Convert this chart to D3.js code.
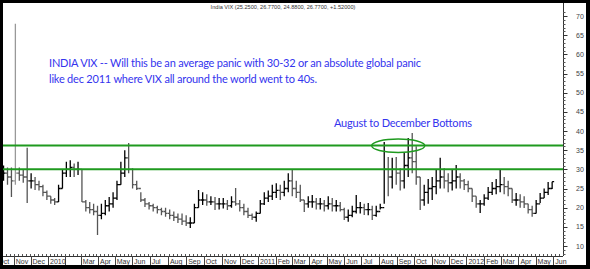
<!DOCTYPE html>
<html>
<head>
<meta charset="utf-8">
<script src="https://cdn.jsdelivr.net/npm/d3@7"></script>
<style>
  body { margin: 0; background: #000; }
  svg { display: block; }
</style>
</head>
<body>
<div id="vis"></div>
<script>
const W = 590, H = 269;
const plot = { left: 3, right: 563, top: 3, bottom: 256 };

// weekly India VIX bars, first week centred on 14 Oct 2009
const firstWeek = new Date(2009, 9, 14);
const high = [31, 30.5, 30.5, 68, 30.5, 30, 35.6, 29, 28, 27, 26, 24.5,
  23, 22.5, 26, 30, 32, 32.4, 31.5, 32, 30, 22, 21.5, 21, 20.5, 21, 22, 22.8, 24, 27, 32, 35, 36.9,
  30.3, 27, 24, 22.5, 21.5, 21, 20.5, 20, 20, 19.5, 19, 18.5, 18.5, 18, 17.5, 21, 24.6, 24, 23.5,
  23, 22.8, 22.5, 22.5, 22, 23, 25.1, 22, 21, 20, 18.5, 19,
  22, 24, 24.5, 26, 26.4, 26, 27, 29, 30, 27, 26, 22, 23, 23.3, 22.5, 22.5, 22, 23, 22.5, 22,
  21.5, 20, 19.5, 20.5, 23.3, 21.5, 21, 21.2, 20.5, 20.5, 21, 37.1, 33.2, 33, 33.2, 30.3, 34.3,
  38.2, 39.5, 36, 28, 26, 27.5, 28, 30, 33, 30.3, 29, 30, 31.1, 29, 27.5,
  27, 25, 23, 22, 23.5, 25.4, 26.7, 27.5, 29.8, 28, 27, 25, 23.8, 23.5, 23, 21, 20.5, 22, 23.8,
  25, 26.7, 26.77];
const low = [27, 26, 22.8, 26, 27, 26.5, 21.2, 25, 24.6, 24.5, 23, 22,
  21, 20.7, 21.5, 25, 28, 28, 28, 28.5, 21.5, 19, 18.5, 18, 12.9, 17, 18, 19, 20, 22, 26, 28, 29,
  25, 24.6, 21.5, 20.2, 19.5, 19, 18.5, 18, 17.6, 17, 16.5, 16, 15.5, 15.2, 14.7, 16, 20, 20.7, 20.5,
  20.7, 19.4, 19.5, 19.8, 19.4, 20, 20.5, 19, 18, 17.3, 16.8, 16.3,
  18.5, 20.7, 21.5, 22, 22.5, 22, 23, 24, 23, 22.5, 21.5, 18.9, 20, 20, 19.5, 19.5, 19, 19.5, 19, 19,
  19, 16.8, 16.3, 17.5, 18.5, 18.5, 18.1, 18, 16.8, 17.6, 19.5, 21, 23, 25, 26, 24.5, 25,
  28, 29, 26, 19.4, 20.5, 21, 22, 23.5, 25, 25, 24, 24.5, 25, 25, 24.6,
  24, 21.5, 20, 18.6, 20.5, 22, 23.3, 23.5, 24, 23.5, 23, 21.2, 20.5, 20, 19.9, 18.5, 17.6, 18.5, 21.2,
  22.5, 23.3, 24.88];
const close = [29, 28, 27, 29, 28.5, 28, 27, 27, 26, 25.5, 24, 23,
  22, 21.5, 25, 29, 30, 30.5, 30, 30, 21.5, 20, 19.5, 19, 18, 18.5, 20.5, 21, 22.5, 26, 29, 33, 30,
  26, 25, 22, 21, 20.5, 20, 19.5, 19, 18.5, 18, 17.5, 17, 16.5, 16, 16, 20, 22, 22, 21.5,
  21.5, 21, 21, 21, 20.5, 21.5, 21, 20, 19, 18, 17.5, 18.5,
  21, 22.5, 23, 24, 24.5, 24, 25, 27, 25, 24, 22, 21, 21.5, 21.5, 21, 21, 20.5, 21, 20.5, 20.5,
  19.5, 17.5, 18, 19, 20, 20, 19.5, 19.5, 18, 19, 20, 30, 28, 30, 29, 27, 31,
  33, 32, 28, 22, 24, 25, 25.5, 27, 28, 27, 26.5, 27, 28, 27, 26,
  25, 23, 21, 21, 22.5, 24, 25, 25.5, 26, 25.5, 25, 22, 22, 21.5, 21, 19.5, 18.5, 21, 22.5,
  24, 25, 26.77];

const levels = [30, 36.2];
const yTicks = d3.range(10, 71, 5);
const hiddenMonthLabels = ["2010-02"];
const titleText = "India VIX (25.2500, 26.7700, 24.8800, 26.7700, +1.52000)";
const noteLines = [
  "INDIA VIX -- Will this be an average panic with 30-32 or an absolute global panic",
  "like dec 2011 where VIX all around the world went to 40s."
];
const calloutText = "August to December Bottoms";

const weeks = high.map((h, i) => ({
  date: d3.timeDay.offset(firstWeek, 7 * i),
  high: h,
  low: low[i],
  close: close[i],
  open: i ? close[i - 1] : close[0]
}));

// trading-day axis is not quite linear in calendar time
const x = d3.scaleTime()
  .domain([new Date(2009, 9, 13), new Date(2010, 0, 1), new Date(2010, 5, 1),
           new Date(2011, 0, 1), new Date(2012, 5, 18)])
  .range([3, 48, 132, 258, 563]);
const y = d3.scaleLinear().domain([10, 70]).range([246, 16]);

const svg = d3.select("#vis").append("svg").attr("width", W).attr("height", H);

svg.append("rect").attr("x", 3).attr("y", 3).attr("width", 583).attr("height", 262).attr("fill", "#fff");

svg.append("defs").append("clipPath").attr("id", "plotclip")
  .append("rect").attr("x", plot.left).attr("y", plot.top)
  .attr("width", plot.right - plot.left).attr("height", plot.bottom - plot.top);

// title
svg.append("text")
  .attr("x", 283).attr("y", 9)
  .attr("text-anchor", "middle")
  .style("font-family", "Liberation Sans, Arial, sans-serif")
  .style("font-size", "5.6px")
  .attr("fill", "#333")
  .text(titleText);

// bars
const g = svg.append("g").attr("clip-path", "url(#plotclip)");
g.selectAll(".bar")
  .data(weeks)
  .enter()
  .append("path")
  .attr("class", "bar")
  .attr("d", (d) => {
    const cx = x(d.date);
    return `M${cx},${y(d.low)}V${y(d.high)}M${cx - 2},${y(d.open)}H${cx}M${cx},${y(d.close)}H${cx + 2}`;
  })
  .attr("fill", "none")
  .attr("stroke", (d) => (d.high > 45 ? "#999" : d.close >= d.open ? "#000" : "#555"))
  .attr("stroke-width", 1.3);

// horizontal levels
g.selectAll(".level")
  .data(levels)
  .enter()
  .append("line")
  .attr("x1", plot.left).attr("x2", plot.right)
  .attr("y1", (d) => y(d)).attr("y2", (d) => y(d))
  .attr("stroke", "#1f9a1f")
  .attr("stroke-width", 2);

// ellipse round the Aug-Oct 2011 highs
const ex0 = x(new Date(2011, 6, 19)), ex1 = x(new Date(2011, 9, 20));
svg.append("ellipse")
  .attr("cx", (ex0 + ex1) / 2)
  .attr("cy", (y(37.9) + y(34.4)) / 2)
  .attr("rx", (ex1 - ex0) / 2)
  .attr("ry", (y(34.4) - y(37.9)) / 2)
  .attr("fill", "none")
  .attr("stroke", "#1f9a1f")
  .attr("stroke-width", 1.4);

// annotations
const note = svg.append("text")
  .style("font-family", "Lato, 'Open Sans', sans-serif")
  .style("font-size", "11px")
  .attr("fill", "#3434ee");
note.append("tspan").attr("x", 49).attr("y", 67).attr("textLength", 372).text(noteLines[0]);
note.append("tspan").attr("x", 49).attr("y", 83).attr("textLength", 268).text(noteLines[1]);

svg.append("text")
  .attr("x", 334).attr("y", 127)
  .attr("textLength", 138)
  .style("font-family", "Lato, 'Open Sans', sans-serif")
  .style("font-size", "11px")
  .attr("fill", "#3434ee")
  .text(calloutText);

// right axis
const axisR = svg.append("g");
axisR.append("line")
  .attr("x1", plot.right + 0.5).attr("x2", plot.right + 0.5)
  .attr("y1", plot.top).attr("y2", plot.bottom)
  .attr("stroke", "#333");
axisR.selectAll(".minor")
  .data(d3.range(8, 72, 1))
  .enter()
  .append("line")
  .attr("x1", plot.right).attr("x2", plot.right + 2.5)
  .attr("y1", (d) => Math.round(y(d)) + 0.5).attr("y2", (d) => Math.round(y(d)) + 0.5)
  .attr("stroke", "#555");
axisR.selectAll(".major")
  .data(yTicks)
  .enter()
  .append("line")
  .attr("x1", plot.right).attr("x2", plot.right + 4.5)
  .attr("y1", (d) => Math.round(y(d)) + 0.5).attr("y2", (d) => Math.round(y(d)) + 0.5)
  .attr("stroke", "#333");
axisR.selectAll(".ylab")
  .data(yTicks)
  .enter()
  .append("text")
  .attr("x", 576).attr("y", (d) => y(d) + 2.5)
  .style("font-family", "Liberation Sans, Arial, sans-serif")
  .style("font-size", "7px")
  .attr("fill", "#444")
  .text((d) => d);

// bottom axis
const axisB = svg.append("g");
axisB.append("line")
  .attr("x1", plot.left).attr("x2", plot.right)
  .attr("y1", plot.bottom + 0.5).attr("y2", plot.bottom + 0.5)
  .attr("stroke", "#333");
axisB.selectAll(".wk")
  .data(d3.timeMonday.range(new Date(2009, 9, 5), new Date(2012, 5, 18)))
  .enter()
  .append("line")
  .attr("x1", (d) => Math.round(x(d)) + 0.5).attr("x2", (d) => Math.round(x(d)) + 0.5)
  .attr("y1", plot.bottom - 2).attr("y2", plot.bottom)
  .attr("stroke", "#555");

const months = d3.timeMonth.range(new Date(2009, 9, 1), new Date(2012, 5, 2));
const fmtKey = d3.timeFormat("%Y-%m");
axisB.selectAll(".sep")
  .data(months)
  .enter()
  .append("line")
  .attr("x1", (d) => Math.round(x(d)) + 0.5).attr("x2", (d) => Math.round(x(d)) + 0.5)
  .attr("y1", plot.bottom).attr("y2", 265)
  .attr("stroke", "#444");
axisB.selectAll(".xlab")
  .data(months.filter((d) => !hiddenMonthLabels.includes(fmtKey(d))))
  .enter()
  .append("text")
  .attr("x", (d) => x(d) + 2)
  .attr("y", 263.5)
  .style("font-family", "Liberation Sans, Arial, sans-serif")
  .style("font-size", "7px")
  .attr("fill", "#333")
  .text((d) => (d.getMonth() === 0 ? d3.timeFormat("%Y")(d) : d3.timeFormat("%b")(d)));

// black frame drawn last so it trims the edges
const frame = svg.append("g").attr("fill", "#000");
frame.append("rect").attr("x", 0).attr("y", 0).attr("width", W).attr("height", 3);
frame.append("rect").attr("x", 0).attr("y", 0).attr("width", 3).attr("height", H);
frame.append("rect").attr("x", 586).attr("y", 0).attr("width", 4).attr("height", H);
frame.append("rect").attr("x", 0).attr("y", 265).attr("width", W).attr("height", 4);
</script>
</body>
</html>
